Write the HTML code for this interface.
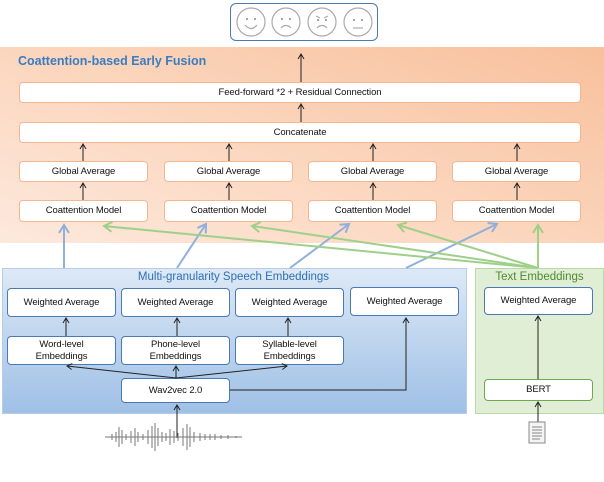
<!DOCTYPE html><html><head><style>
body{margin:0;width:604px;height:482px;background:#fff;position:relative;overflow:hidden;font-family:"Liberation Sans",sans-serif}
.b{position:absolute;background:#fff;border-radius:4px;box-sizing:border-box;display:flex;align-items:center;justify-content:center;text-align:center;font-size:9.5px;color:#111;line-height:1.2;letter-spacing:-0.1px}
.o{border:1px solid #f3b690}
.u{border:1px solid #4a79b5}
.g{border:1px solid #70a850}
</style></head><body>
<div style="position:absolute;left:0;top:47px;width:604px;height:196px;background:linear-gradient(20deg,#fde9dd 0%,#fbd5bc 50%,#f8c09c 100%)"></div>
<div style="position:absolute;left:2px;top:268px;width:465px;height:146px;background:linear-gradient(#dde9f6,#9fc0e6);border:1px solid #b5cde8;box-sizing:border-box"></div>
<div style="position:absolute;left:475px;top:268px;width:129px;height:146px;background:#e0eed6;border:1px solid #b9d9a6;box-sizing:border-box"></div>
<div style="position:absolute;left:230px;top:3px;width:148px;height:38px;border:1px solid #4a79b5;border-radius:6px;box-sizing:border-box"></div>
<div style="position:absolute;left:18px;top:54px;font-size:12.5px;font-weight:bold;color:#3a7cc0">Coattention-based Early Fusion</div>
<div style="position:absolute;left:0;width:467px;top:271px;text-align:center;font-size:11.5px;color:#2e6fb5">Multi-granularity Speech Embeddings</div>
<div style="position:absolute;left:475px;width:129px;top:271px;text-align:center;font-size:11.5px;color:#4f8a2b">Text Embeddings</div>
<div class="b o" style="left:19px;top:82px;width:562px;height:21px">Feed-forward *2 + Residual Connection</div>
<div class="b o" style="left:19px;top:122px;width:562px;height:21px">Concatenate</div>
<div class="b o" style="left:19px;top:161px;width:129px;height:21px">Global Average</div>
<div class="b o" style="left:164px;top:161px;width:129px;height:21px">Global Average</div>
<div class="b o" style="left:308px;top:161px;width:129px;height:21px">Global Average</div>
<div class="b o" style="left:452px;top:161px;width:129px;height:21px">Global Average</div>
<div class="b o" style="left:19px;top:200px;width:129px;height:22px">Coattention Model</div>
<div class="b o" style="left:164px;top:200px;width:129px;height:22px">Coattention Model</div>
<div class="b o" style="left:308px;top:200px;width:129px;height:22px">Coattention Model</div>
<div class="b o" style="left:452px;top:200px;width:129px;height:22px">Coattention Model</div>
<div class="b u" style="left:7px;top:288px;width:109px;height:29px">Weighted Average</div>
<div class="b u" style="left:121px;top:288px;width:109px;height:29px">Weighted Average</div>
<div class="b u" style="left:235px;top:288px;width:109px;height:29px">Weighted Average</div>
<div class="b u" style="left:350px;top:287px;width:109px;height:29px">Weighted Average</div>
<div class="b u" style="left:484px;top:287px;width:109px;height:28px">Weighted Average</div>
<div class="b u" style="left:7px;top:336px;width:109px;height:29px">Word-level<br>Embeddings</div>
<div class="b u" style="left:121px;top:336px;width:109px;height:29px">Phone-level<br>Embeddings</div>
<div class="b u" style="left:235px;top:336px;width:109px;height:29px">Syllable-level<br>Embeddings</div>
<div class="b u" style="left:121px;top:378px;width:109px;height:25px">Wav2vec 2.0</div>
<div class="b g" style="left:484px;top:379px;width:109px;height:22px">BERT</div>
<svg width="604" height="482" style="position:absolute;left:0;top:0">
<defs><marker id="k" markerWidth="8" markerHeight="8" refX="6" refY="4" orient="auto" markerUnits="userSpaceOnUse"><path d="M1,1L6,4L1,7" fill="none" stroke="#222" stroke-width="1"/></marker>
<marker id="bl" markerWidth="12" markerHeight="12" refX="9" refY="6" orient="auto" markerUnits="userSpaceOnUse"><path d="M1,1L9,6L1,11" fill="none" stroke="#8fb0dd" stroke-width="2"/></marker>
<marker id="gr" markerWidth="12" markerHeight="12" refX="9" refY="6" orient="auto" markerUnits="userSpaceOnUse"><path d="M1,1L9,6L1,11" fill="none" stroke="#9fd08a" stroke-width="2"/></marker></defs>
<g fill="none" stroke="#aaa" stroke-width="1.2">
<circle cx="251" cy="22" r="14"/><circle cx="286" cy="22" r="14"/><circle cx="322" cy="22" r="14"/><circle cx="358" cy="22" r="14"/>
<path d="M245,25 Q251,32 257,25"/><path d="M281,28 Q286,23 291,28"/><path d="M317,28 Q322,23 327,28"/><path d="M316,16L320,18M328,16L324,18"/><path d="M353,28H363"/>
</g>
<g fill="#888"><circle cx="247" cy="19" r="1"/><circle cx="255" cy="19" r="1"/><circle cx="282" cy="19" r="1"/><circle cx="290" cy="19" r="1"/><circle cx="318" cy="20" r="1"/><circle cx="326" cy="20" r="1"/><circle cx="354" cy="20" r="1"/><circle cx="362" cy="20" r="1"/></g>
<g stroke="#222" stroke-width="1" fill="none" marker-end="url(#k)">
<path d="M301,82V54"/><path d="M301,122V104"/>
<path d="M83,161V144"/><path d="M229,161V144"/><path d="M373,161V144"/><path d="M517,161V144"/>
<path d="M83,200V183"/><path d="M229,200V183"/><path d="M373,200V183"/><path d="M517,200V183"/>
<path d="M66,336V318"/><path d="M177,336V318"/><path d="M288,336V318"/>
<path d="M176,378L67,366"/><path d="M176,378V366"/><path d="M176,378L287,366"/>
<path d="M230,390H406V318"/><path d="M538,379V316"/><path d="M538,422V402"/><path d="M177,438V405"/>
</g>
<g stroke="#8fb0dd" stroke-width="2" marker-end="url(#bl)">
<path d="M64,268V225"/><path d="M177,268L206,224"/><path d="M290,268L349,224"/><path d="M406,268L497,224"/>
</g>
<g stroke="#9fd08a" stroke-width="2" marker-end="url(#gr)">
<path d="M538,268V225"/><path d="M538,268L104,226"/><path d="M538,268L252,226"/><path d="M538,268L398,225"/>
</g>
<rect x="529" y="422" width="16" height="21" fill="#f4f4f4" stroke="#888"/>
<g stroke="#888"><path d="M532,427H542M532,430H542M532,433H542M532,436H542M532,439H540"/></g>
<g stroke="#777" stroke-width="1">
<path d="M105,437H242"/>
<path d="M112,434V440M116,432V442M119,427V447M122,430V444M126,434V440M131,431V443M135,428V446M138,432V442M143,434V440M148,430V444M152,426V448M155,423V451M158,428V446M162,432V442M166,433V441M170,429V445M174,431V443M178,433V441M183,428V446M187,424V450M190,427V447M194,432V442M200,433V441M205,434V440M210,434V440M215,434V440M221,435V439M228,435V439M236,436V438"/>
</g>
</svg>
</body></html>
